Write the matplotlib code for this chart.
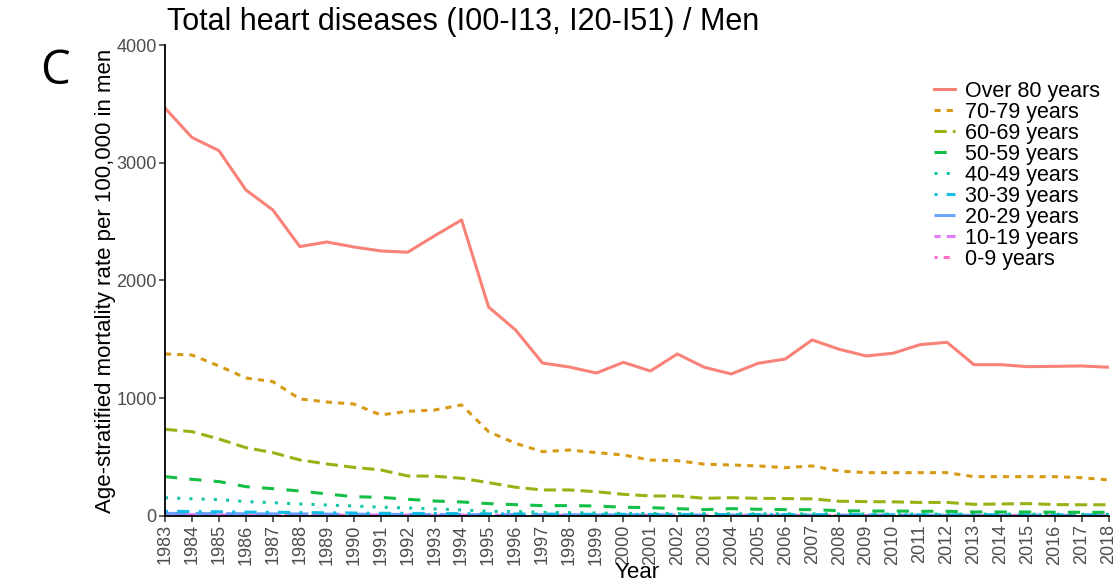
import numpy as np
import matplotlib
matplotlib.use("Agg")
import matplotlib.pyplot as plt

plt.rcParams['font.family'] = ['Liberation Sans', 'DejaVu Sans']

years = list(range(1983, 2019))

over80 = [3465, 3215, 3103, 2769, 2599, 2288, 2327, 2285, 2251, 2240, 2380, 2514,
          1775, 1580, 1299, 1265, 1214, 1305, 1231, 1376, 1263, 1206, 1297, 1333,
          1495, 1416, 1359, 1382, 1455, 1475, 1285, 1285, 1268, 1271, 1274, 1263]
age70_79 = [1376, 1367, 1274, 1172, 1141, 994, 968, 951, 858, 889, 900, 943,
            716, 617, 546, 560, 538, 518, 475, 470, 440, 433, 425, 410,
            425, 382, 368, 368, 368, 368, 334, 334, 334, 334, 325, 306]
age60_69 = [736, 716, 654, 580, 538, 476, 442, 413, 391, 340, 338, 320,
            283, 244, 221, 221, 206, 184, 170, 170, 150, 155, 150, 148,
            145, 125, 122, 120, 115, 115, 99, 102, 105, 97, 95, 95]
age50_59 = [334, 311, 292, 249, 232, 212, 187, 164, 158, 142, 127, 119,
            105, 96, 88, 88, 85, 74, 71, 62, 54, 62, 57, 54,
            54, 45, 42, 42, 40, 40, 34, 34, 34, 32, 31, 31]
age40_49 = [155, 146, 139, 122, 113, 102, 93, 85, 74, 68, 60, 51,
            40, 37, 31, 28, 25, 22, 21, 20, 19, 19, 18, 18,
            18, 17, 17, 16, 16, 16, 15, 15, 15, 14, 14, 14]
age30_39 = [40, 38, 36, 33, 31, 29, 27, 25, 23, 22, 21, 20,
            18, 17, 16, 15, 14, 14, 13, 13, 12, 12, 12, 12,
            11, 11, 11, 10, 10, 10, 10, 10, 9, 9, 9, 9]
age20_29 = [22, 21, 20, 19, 18, 17, 16, 15, 14, 13, 13, 12,
            11, 11, 10, 10, 9, 9, 9, 8, 8, 8, 8, 7,
            7, 7, 7, 7, 6, 6, 6, 6, 6, 6, 6, 6]
age10_19 = [10, 10, 9, 9, 8, 8, 8, 7, 7, 7, 6, 6,
            6, 6, 5, 5, 5, 5, 5, 5, 4, 4, 4, 4,
            4, 4, 4, 4, 4, 3, 3, 3, 3, 3, 3, 3]
age0_9 = [8, 8, 7, 7, 7, 6, 6, 6, 6, 5, 5, 5,
          5, 5, 4, 4, 4, 4, 4, 4, 4, 3, 3, 3,
          3, 3, 3, 3, 3, 3, 3, 3, 3, 3, 3, 3]

labels = ['Over 80 years', '70-79 years', '60-69 years', '50-59 years', '40-49 years',
          '30-39 years', '20-29 years', '10-19 years', '0-9 years']
series = [over80, age70_79, age60_69, age50_59, age40_49, age30_39, age20_29, age10_19, age0_9]

# ggplot2 default hue palette and linetypes
colors = ['#F8766D', '#D39200', '#93AA00', '#00BA38', '#00C19F',
          '#00B9E3', '#619CFF', '#DB72FB', '#FF61C3']
styles = ['-', (0, (2, 2)), (0, (4, 2)), (0, (4, 4)), (0, (1, 3)),
          (0, (1, 3, 4, 3)), (0, (7, 3)), (0, (2, 2, 6, 2)), (0, (1, 2, 2, 2, 3, 2, 4, 2))]

fig = plt.figure(figsize=(11.2, 5.86), dpi=100)
ax = fig.add_axes([0.1473, 0.1195, 0.8427, 0.8037])

# draw small groups first so the big ones sit on top
for vals, lab, c, ls in reversed(list(zip(series, labels, colors, styles))):
    ax.plot(years, vals, color=c, linestyle=ls, linewidth=2.2, label=lab, alpha=0.92)

ax.set_xlim(1983, 2018)
ax.set_ylim(0, 4000)
ax.set_xticks(years)
ax.set_xticklabels([str(y) for y in years], rotation=90)
ax.set_yticks([0, 1000, 2000, 3000, 4000])

for s in ['top', 'right']:
    ax.spines[s].set_visible(False)
for s in ['left', 'bottom']:
    ax.spines[s].set_color('black')
    ax.spines[s].set_linewidth(1.3)
ax.tick_params(axis='both', colors='#4D4D4D', labelsize=13, length=4, width=1.1, pad=2)
ax.tick_params(axis='both', color='#333333')

ax.set_xlabel('Year', fontsize=16, labelpad=-2)
ax.set_ylabel('Age-stratified mortality rate per 100,000 in men', fontsize=16, labelpad=0)

handles, labs = ax.get_legend_handles_labels()
leg = fig.legend(handles[::-1], labs[::-1], loc='upper right', bbox_to_anchor=(0.982, 0.862),
                 frameon=False, fontsize=15.5, handlelength=1.0, handletextpad=0.45,
                 labelspacing=0.0, borderaxespad=0, borderpad=0)

fig.text(0.149, 0.948, 'Total heart diseases (I00-I13, I20-I51) / Men', fontsize=22,
         ha='left', va='baseline')
fig.text(0.036, 0.857, 'C', fontsize=34, ha='left', va='baseline', family='Open Sans')

fig.savefig('out.png', dpi=100)
